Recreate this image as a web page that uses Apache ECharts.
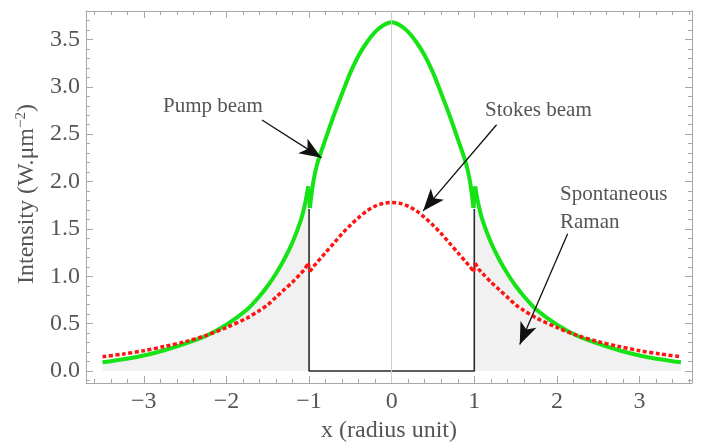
<!DOCTYPE html>
<html>
<head>
<meta charset="UTF-8">
<script src="https://cdn.jsdelivr.net/npm/echarts@6/dist/echarts.min.js"></script>
<title></title>
<style>
  html, body { margin: 0; padding: 0; background: #fff; }
  #graph { width: 701px; height: 448px; }
</style>
</head>
<body>
<div id="graph"></div>
<script>
// radius positions (the jump at +-1 drawn between 0.99 and 1.01)
var xs = [-3.5, -3.25, -3, -2.75, -2.5, -2.25, -2, -1.75, -1.6, -1.5, -1.4, -1.3, -1.2, -1.1, -1.05, -1.01,
          -0.99, -0.95, -0.9, -0.8, -0.7, -0.6, -0.5, -0.4, -0.3, -0.2, -0.1, 0,
          0.1, 0.2, 0.3, 0.4, 0.5, 0.6, 0.7, 0.8, 0.9, 0.95, 0.99,
          1.01, 1.05, 1.1, 1.2, 1.3, 1.4, 1.5, 1.6, 1.75, 2, 2.25, 2.5, 2.75, 3, 3.25, 3.5];
var pump = [0.092, 0.125, 0.165, 0.22, 0.29, 0.37, 0.49, 0.65, 0.79, 0.90, 1.03, 1.18, 1.36, 1.59, 1.76, 1.95,
            1.72, 1.99, 2.19, 2.45, 2.70, 2.93, 3.15, 3.33, 3.47, 3.58, 3.65, 3.68,
            3.65, 3.58, 3.47, 3.33, 3.15, 2.93, 2.70, 2.45, 2.19, 1.99, 1.72,
            1.95, 1.76, 1.59, 1.36, 1.18, 1.03, 0.90, 0.79, 0.65, 0.49, 0.37, 0.29, 0.22, 0.165, 0.125, 0.092];
var stokes = [0.15, 0.18, 0.215, 0.26, 0.31, 0.375, 0.46, 0.56, 0.64, 0.70, 0.78, 0.86, 0.94, 1.03, 1.08, 1.14,
              1.05, 1.10, 1.15, 1.25, 1.35, 1.45, 1.54, 1.62, 1.69, 1.74, 1.77, 1.78,
              1.77, 1.74, 1.69, 1.62, 1.54, 1.45, 1.35, 1.25, 1.15, 1.10, 1.05,
              1.14, 1.08, 1.03, 0.94, 0.86, 0.78, 0.70, 0.64, 0.56, 0.46, 0.375, 0.31, 0.26, 0.215, 0.18, 0.15];
// black step (core region)
var stepX = [-1, -1, 1, 1];
var stepY = [1.71, 0, 0, 1.71];
// ticks
var xMajor = [-3, -2, -1, 0, 1, 2, 3];
var yMajor = [0, 0.5, 1, 1.5, 2, 2.5, 3, 3.5];
var xMinor = [];
for (var i = -18; i <= 18; i++) { if (i % 5 != 0) xMinor.push(i / 5); }
var yMinor = [];
for (var j = -1; j <= 38; j++) { if (j % 5 != 0) yMinor.push(j / 10); }

function pairs(a, b) {
  var out = [];
  for (var k = 0; k < a.length; k++) out.push([a[k], b[k]]);
  return out;
}
var pumpData = pairs(xs, pump);
var stokesData = pairs(xs, stokes);
var n = xs.length;
var fillLeft = pumpData.slice(0, 16);
var fillRight = pumpData.slice(n - 16);

var frame = '#a8a8a8';
var txt = '#555';
var serif = '"Liberation Serif", "DejaVu Serif", serif';

// one curve = smooth outer/inner pieces + straight jumps at +-1
function curve(data, lineStyle) {
  var pieces = [
    [data.slice(0, 16), 0.3], [data.slice(15, 17), false], [data.slice(16, n - 16), 0.3],
    [data.slice(n - 17, n - 15), false], [data.slice(n - 16), 0.3]
  ];
  return pieces.map(function (p) {
    return { type: 'line', data: p[0], smooth: p[1], showSymbol: false, symbol: 'none', silent: true,
             lineStyle: lineStyle };
  });
}

function xAx(pos, minor, labels) {
  return {
    type: 'value', position: pos, min: -3.7, max: 3.635,
    axisLine: { show: !minor, onZero: false, lineStyle: { color: frame, width: 1 } },
    axisTick: { show: true, inside: true, length: minor ? 4 : 7, customValues: minor ? xMinor : xMajor,
                lineStyle: { color: frame } },
    axisLabel: { show: labels, customValues: xMajor, margin: 7, color: txt, fontSize: 24, fontFamily: serif,
                 formatter: function (v) { return v < 0 ? '\u2212' + Math.abs(v) : String(v); } },
    splitLine: { show: false },
    name: labels ? 'x (radius unit)' : '', nameLocation: 'middle', nameGap: 36,
    nameTextStyle: { color: txt, fontSize: 24, fontFamily: serif }
  };
}
function yAx(pos, minor, labels) {
  return {
    type: 'value', position: pos, min: -0.126, max: 3.8,
    axisLine: { show: !minor, onZero: false, lineStyle: { color: frame, width: 1 } },
    axisTick: { show: true, inside: true, length: minor ? 4 : 7, customValues: minor ? yMinor : yMajor,
                lineStyle: { color: frame } },
    axisLabel: { show: labels, customValues: yMajor, margin: 6, color: txt, fontSize: 24, fontFamily: serif,
                 formatter: function (v) { return v.toFixed(1); } },
    splitLine: { show: false },
    name: labels ? 'Intensity (W.\u03bcm{sup|\u22122})' : '', nameLocation: 'middle', nameGap: 46, nameRotate: 90,
    nameTextStyle: { color: txt, fontSize: 24, fontFamily: serif, padding: [0, 0, 0, 6],
                     rich: { sup: { fontSize: 15, color: txt, fontFamily: serif, verticalAlign: 'top', lineHeight: 26 } } }
  };
}

var series = [
  {
    type: 'line', data: fillLeft, showSymbol: false, symbol: 'none', silent: true, smooth: 0.3,
    lineStyle: { width: 0 }, areaStyle: { color: '#f1f1f1', opacity: 1 },
    markLine: { silent: true, symbol: 'none', label: { show: false },
                lineStyle: { color: '#cfcfcf', width: 1, type: 'solid' }, data: [{ xAxis: 0 }] }
  },
  {
    type: 'line', data: fillRight, showSymbol: false, symbol: 'none', silent: true, smooth: 0.3,
    lineStyle: { width: 0 }, areaStyle: { color: '#f1f1f1', opacity: 1 }
  },
  {
    type: 'line', data: pairs(stepX, stepY), showSymbol: false, symbol: 'none', silent: true,
    lineStyle: { color: '#2a2a2a', width: 1.6 },
    markLine: {
      silent: true, symbol: ['none', 'arrow'], symbolSize: [13, 22], label: { show: false },
      lineStyle: { color: '#111', width: 1.3, type: 'solid' },
      data: [
        [{ coord: [-1.57, 2.65] }, { coord: [-0.85, 2.25] }],
        [{ coord: [1.27, 2.60] }, { coord: [0.38, 1.69] }],
        [{ coord: [2.13, 1.45] }, { coord: [1.55, 0.28] }]
      ]
    }
  }
];
series = series.concat(curve(pumpData, { color: '#16e316', width: 4 }));
series = series.concat(curve(stokesData, { color: '#ff1414', width: 3.5, type: [4, 2.5] }));

var myChart = echarts.init(document.getElementById('graph'));
var option = {
  animation: false,
  backgroundColor: '#fff',
  grid: { left: 86, right: 9, top: 11, bottom: 63 },
  xAxis: [xAx('bottom', false, true), xAx('bottom', true, false), xAx('top', false, false), xAx('top', true, false)],
  yAxis: [yAx('left', false, true), yAx('left', true, false), yAx('right', false, false), yAx('right', true, false)],
  series: series,
  graphic: [
    { type: 'text', x: 163, y: 106, style: { text: 'Pump beam', fill: txt, font: '21px ' + serif, verticalAlign: 'middle' } },
    { type: 'text', x: 485, y: 110, style: { text: 'Stokes beam', fill: txt, font: '21px ' + serif, verticalAlign: 'middle' } },
    { type: 'text', x: 560, y: 194, style: { text: 'Spontaneous', fill: txt, font: '21px ' + serif, verticalAlign: 'middle' } },
    { type: 'text', x: 560, y: 222, style: { text: 'Raman', fill: txt, font: '21px ' + serif, verticalAlign: 'middle' } }
  ]
};
myChart.setOption(option);
</script>
</body>
</html>
